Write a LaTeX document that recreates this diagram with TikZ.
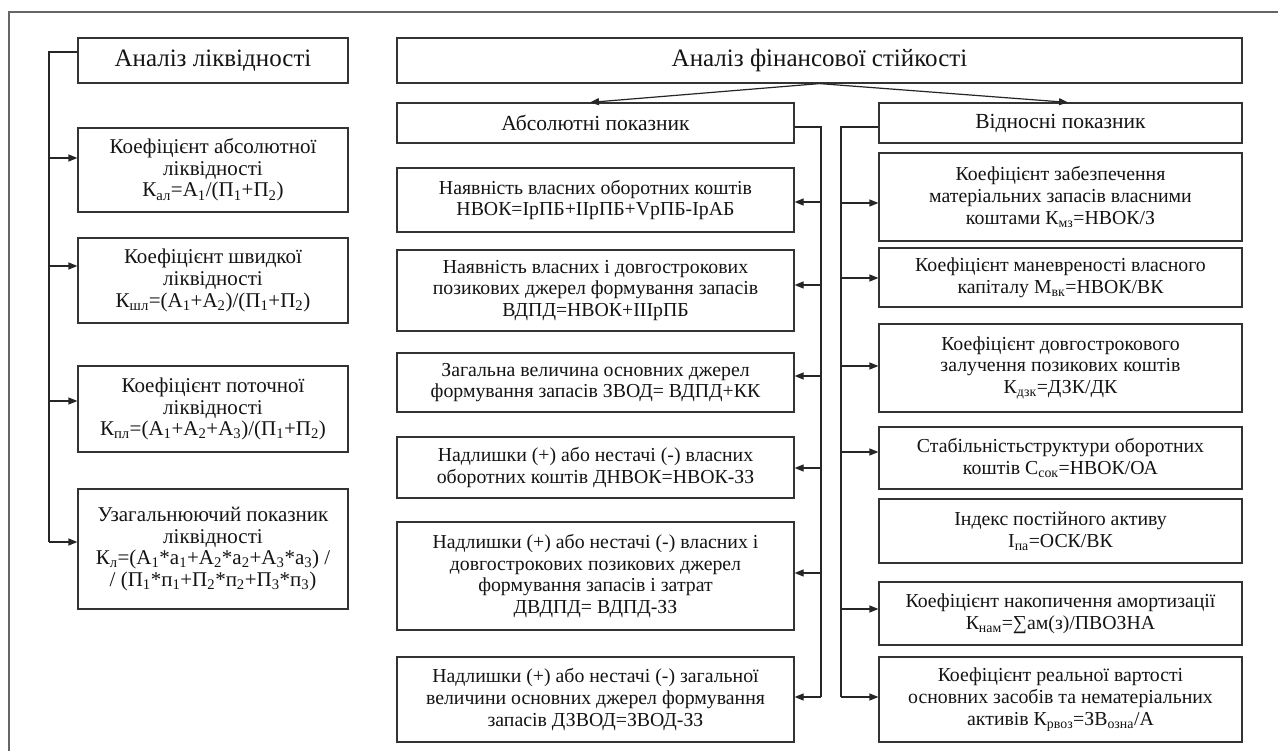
\documentclass[tikz,border=0pt]{standalone}
\usepackage{fontspec}
\setmainfont{Liberation Serif}
\usetikzlibrary{arrows.meta}
\newcommand{\sbs}[1]{\textsubscript{#1}}
\begin{document}
\begin{tikzpicture}[x=1pt,y=-1pt,
  box/.style={draw=black!80, line width=1.2pt, fill=white, align=center, inner sep=1pt,
    font=\fontsize{19.8}{21.7}\selectfont, text=black!92},
  lbox/.style={box, font=\fontsize{21}{21.7}\selectfont},
  sub/.style={box, font=\fontsize{21.5}{22}\selectfont},
  ttl/.style={box, font=\fontsize{25}{26}\selectfont},
  arr/.style={draw=black!85, line width=1.2pt, -{Triangle[length=9pt,width=7pt]}},
  bus/.style={draw=black!85, line width=1.2pt},
  frame/.style={draw=black!60, line width=1.6pt}]
\useasboundingbox (0,0) rectangle (1278,751);
\fill[white] (0,0) rectangle (1278,751);
% outer frame (open to the right and bottom)
\coordinate (fb) at (9,751);
\coordinate (fc) at (9,12);
\coordinate (fr) at (1278,12);
\draw[frame] (fb) -- (fc) -- (fr);

% left column
\node[ttl, minimum width=270pt, minimum height=45pt] (la) at (213,60.5) {Аналіз ліквідності};
\node[lbox, minimum width=270pt, minimum height=84pt] (l1) at (213,170) {Коефіцієнт абсолютної\\ліквідності\\К\sbs{ал}=А\sbs{1}/(П\sbs{1}+П\sbs{2})};
\node[lbox, minimum width=270pt, minimum height=85pt] (l2) at (213,280.5) {Коефіцієнт швидкої\\ліквідності\\К\sbs{шл}=(А\sbs{1}+А\sbs{2})/(П\sbs{1}+П\sbs{2})};
\node[lbox, minimum width=270pt, minimum height=86pt] (l3) at (213,409) {Коефіцієнт поточної\\ліквідності\\К\sbs{пл}=(А\sbs{1}+А\sbs{2}+А\sbs{3})/(П\sbs{1}+П\sbs{2})};
\node[lbox, minimum width=270pt, minimum height=120pt] (l4) at (213,549) {Узагальнюючий показник\\ліквідності\\К\sbs{л}=(А\sbs{1}*а\sbs{1}+А\sbs{2}*а\sbs{2}+А\sbs{3}*а\sbs{3}) /\\/ (П\sbs{1}*п\sbs{1}+П\sbs{2}*п\sbs{2}+П\sbs{3}*п\sbs{3})};

\coordinate (lb) at (49,52);
\draw[bus] ([yshift=8.5pt]la.west) -- (lb) -- (lb |- 0,542);
\draw[arr] (lb |- 0,158) -- (l1.west |- 0,158);
\draw[arr] (lb |- 0,266) -- (l2.west |- 0,266);
\draw[arr] (lb |- 0,401) -- (l3.west |- 0,401);
\draw[arr] (lb |- 0,542) -- (l4.west |- 0,542);

% top
\node[ttl, minimum width=845pt, minimum height=45pt] (fin) at (819.5,60.5) {Аналіз фінансової стійкості};

% middle column
\node[sub, minimum width=397pt, minimum height=40pt] (abs) at (595.5,123) {Абсолютні показник};
\node[box, minimum width=397pt, minimum height=64pt] (m1) at (595.5,200) {Наявність власних оборотних коштів\\НВОК=IрПБ+IIрПБ+VрПБ-IрАБ};
\node[box, minimum width=397pt, minimum height=81pt] (m2) at (595.5,290.5) {Наявність власних і довгострокових\\позикових джерел формування запасів\\ВДПД=НВОК+IIIрПБ};
\node[box, minimum width=397pt, minimum height=59pt] (m3) at (595.5,382.5) {Загальна величина основних джерел\\формування запасів ЗВОД= ВДПД+КК};
\node[box, minimum width=397pt, minimum height=61pt] (m4) at (595.5,467.5) {Надлишки (+) або нестачі (-) власних\\оборотних коштів ДНВОК=НВОК-ЗЗ};
\node[box, minimum width=397pt, minimum height=108pt] (m5) at (595.5,576) {Надлишки (+) або нестачі (-) власних і\\довгострокових позикових джерел\\формування запасів і затрат\\ДВДПД= ВДПД-ЗЗ};
\node[box, minimum width=397pt, minimum height=85pt] (m6) at (595.5,699.5) {Надлишки (+) або нестачі (-) загальної\\величини основних джерел формування\\запасів ДЗВОД=ЗВОД-ЗЗ};

% right column
\node[sub, minimum width=363pt, minimum height=40pt] (rel) at (1060.5,123) {Відносні показник};
\node[box, minimum width=363pt, minimum height=88pt] (r1) at (1060.5,197) {Коефіцієнт забезпечення\\матеріальних запасів власними\\коштами К\sbs{мз}=НВОК/З};
\node[box, minimum width=363pt, minimum height=59pt] (r2) at (1060.5,277.5) {Коефіцієнт маневреності власного\\капіталу М\sbs{вк}=НВОК/ВК};
\node[box, minimum width=363pt, minimum height=88pt] (r3) at (1060.5,368) {Коефіцієнт довгострокового\\залучення позикових коштів\\К\sbs{дзк}=ДЗК/ДК};
\node[box, minimum width=363pt, minimum height=62pt] (r4) at (1060.5,458) {Стабільністьструктури оборотних\\коштів С\sbs{сок}=НВОК/ОА};
\node[box, minimum width=363pt, minimum height=64pt] (r5) at (1060.5,531) {Індекс постійного активу\\І\sbs{па}=ОСК/ВК};
\node[box, minimum width=363pt, minimum height=63pt] (r6) at (1060.5,613.5) {Коефіцієнт накопичення амортизації\\К\sbs{нам}=∑ам(з)/ПВОЗНА};
\node[box, minimum width=363pt, minimum height=85pt] (r7) at (1060.5,699.5) {Коефіцієнт реальної вартості\\основних засобів та нематеріальних\\активів К\sbs{рвоз}=ЗВ\sbs{озна}/А};

% top arrows
\draw[arr] (fin.south) -- ([xshift=-5.5pt]abs.north);
\draw[arr] (fin.south) -- ([xshift=7.5pt]rel.north);

% absolute bus
\coordinate (ab) at (821,127);
\draw[bus] ([yshift=-4pt]abs.east) -- (ab) -- (ab |- 0,697);
\draw[arr] (ab |- 0,202) -- (m1.east |- 0,202);
\draw[arr] (ab |- 0,285) -- (m2.east |- 0,285);
\draw[arr] (ab |- 0,376) -- (m3.east |- 0,376);
\draw[arr] (ab |- 0,468) -- (m4.east |- 0,468);
\draw[arr] (ab |- 0,573) -- (m5.east |- 0,573);
\draw[arr] (ab |- 0,697) -- (m6.east |- 0,697);

% relative bus
\coordinate (rb) at (841,127);
\draw[bus] ([yshift=-4pt]rel.west) -- (rb) -- (rb |- 0,697);
\draw[arr] (rb |- 0,203) -- (r1.west |- 0,203);
\draw[arr] (rb |- 0,278) -- (r2.west |- 0,278);
\draw[arr] (rb |- 0,366) -- (r3.west |- 0,366);
\draw[arr] (rb |- 0,452) -- (r4.west |- 0,452);
\draw[arr] (rb |- 0,609) -- (r6.west |- 0,609);
\draw[arr] (rb |- 0,697) -- (r7.west |- 0,697);
\end{tikzpicture}
\end{document}
